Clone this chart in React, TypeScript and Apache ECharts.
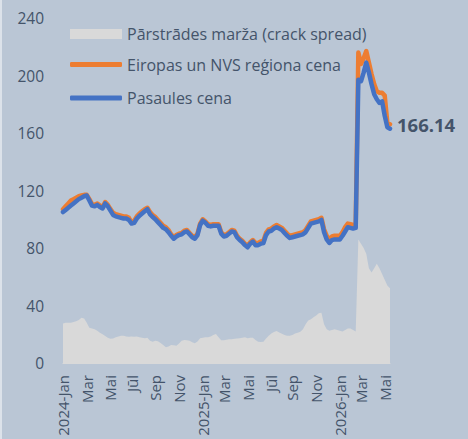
import React, { useEffect, useRef } from "react";
import * as echarts from "echarts";

const WEEK_COUNT = 125;
const START = Date.UTC(2024, 0, 1);
const categories: string[] = Array.from({ length: WEEK_COUNT }, (_, i) =>
  new Date(START + i * 7 * 86400000).toISOString().slice(0, 10)
);
const monthNames = ["Jan", "Feb", "Mar", "Apr", "Mai", "Jūn", "Jūl", "Aug", "Sep", "Okt", "Nov", "Dec"];

const yTicks = { min: 0, max: 240, interval: 40 };

const spreadName = "Pārstrādes marža (crack spread)";
const europeName = "Eiropas un NVS reģiona cena";
const worldName = "Pasaules cena";

const spreadValues = [
  27.5, 28, 28, 28, 28.5, 29, 30, 31.5, 31, 28,
  24.5, 24, 23.5, 22.5, 21, 20, 18.8, 17.5, 16.8, 17,
  18, 18.5, 19, 19, 18.5, 18.3, 18.5, 18.3, 18.5, 18,
  17.5, 17.3, 17.5, 15.5, 14.8, 15.5, 15.2, 14, 12.5, 11,
  11.5, 12.5, 12.3, 12, 13.5, 15.5, 16, 15.8, 15.5, 14.5,
  13.7, 15, 17.2, 17.5, 17.9, 18, 18.5, 19.5, 20.2, 18,
  15.8, 15.8, 16.2, 16.5, 16.5, 16.8, 17, 17.2, 17.5, 17.9,
  17.2, 17.6, 17.5, 16, 14.8, 14.6, 14.8, 17, 19, 20.5,
  21.5, 22.3, 21.3, 20.3, 19.5, 19, 19, 19.5, 20.5, 21,
  21.8, 23.5, 27, 29.5, 30.5, 31.8, 33, 34.6, 35, 27,
  23.5, 22.5, 23, 23.4, 23, 22.5, 22, 23, 24, 24,
  23, 22, 86, 83, 80, 76, 66, 63, 66, 69,
  66, 62, 58, 54, 52
];

const europeValues = [
  107, 109, 111, 113, 114, 115, 116, 116.5, 117, 117,
  114, 110.5, 110, 111, 109.5, 108.5, 112, 110, 107, 104.5,
  103.5, 103, 102.5, 102, 102, 101, 98, 99, 102, 104,
  105.5, 107, 108, 105, 103, 101.5, 99.5, 97.5, 95.5, 94.5,
  92.5, 89.5, 87.5, 89, 90, 90.5, 92, 92.5, 90.5, 88.5,
  87.5, 90, 97, 100, 98.5, 96.5, 96, 96.5, 96.5, 96.5,
  91, 89, 89.5, 91, 92.5, 92, 88.5, 86.5, 85, 83,
  81.5, 84, 85.5, 83.5, 83.5, 84.5, 85, 90.5, 93, 93.5,
  95, 96, 95, 94, 92, 90, 88.5, 89, 89.5, 90,
  90.5, 91, 92.5, 95.5, 98.5, 99, 99.5, 100, 101, 93,
  88.5, 86, 88, 88.5, 88.5, 88.5, 91, 94.5, 97, 96.5,
  96, 96, 216, 208, 212, 217, 209, 201, 194, 189,
  188, 188, 186, 167, 166.14
];

const worldValues = [
  105, 106.5, 108, 109.5, 111, 112.5, 114, 115, 116, 116.5,
  113, 109.5, 109, 110, 108.5, 107.5, 111, 109, 106, 103,
  102, 101.5, 101, 100.5, 100.5, 99.5, 97, 97.5, 100.5, 102.5,
  104, 105.5, 107, 103.5, 101.5, 100, 98, 96, 94, 93,
  91, 88.5, 86.5, 88, 89, 89.5, 91, 91.5, 89.5, 87.5,
  86.5, 89, 96, 99, 97.5, 95.5, 95, 95.5, 95.5, 95.5,
  90, 88, 88.5, 90, 91.5, 91, 87.5, 85.5, 84, 82,
  80.5, 83, 84.5, 82, 82, 83, 83.5, 89, 91.5, 92,
  93.5, 94.5, 93.5, 92.5, 90.5, 88.5, 87, 87.5, 88, 88.5,
  89, 89.5, 91, 94, 97, 97.5, 98, 98.5, 99.5, 91,
  86, 83.5, 85.5, 86, 86, 86, 88.5, 91.5, 94.5, 94,
  93.5, 94, 197, 196, 202, 209, 202, 194, 187, 183.5,
  181, 182, 172, 164, 163
];

const TEXT = "#44546A";
const FONT = "'Open Sans', sans-serif";

export default function App() {
  const ref = useRef<HTMLDivElement>(null);
  useEffect(() => {
    if (!ref.current) return;
    const chart = echarts.init(ref.current, null, { renderer: "svg" });
    const isLabelWeek = (idx: number) => {
      const d = new Date(categories[idx] + "T00:00:00Z");
      const m = d.getUTCMonth();
      return d.getUTCDate() <= 7 && m % 2 === 0;
    };
    const legendText = { color: TEXT, fontSize: 16, fontFamily: FONT, lineHeight: 15 };
    chart.setOption({
      animation: false,
      backgroundColor: "#BAC6D5",
      textStyle: { fontFamily: FONT },
      grid: { left: 63, right: 78, top: 18, bottom: 76, outerBoundsMode: "none" },
      graphic: [
        { type: "rect", left: 0, top: 0, shape: { width: 2, height: 439 }, style: { fill: "#DCE2EA" } },
      ],
      legend: [
        {
          data: [{ name: spreadName, icon: "rect" }],
          orient: "vertical",
          left: 65,
          top: 21,
          padding: 5,
          itemWidth: 52,
          itemHeight: 10,
          itemGap: 17,
          selectedMode: false,
          itemStyle: { borderWidth: 0 },
          textStyle: legendText,
        },
        {
          data: [
            { name: europeName, icon: "roundRect" },
            { name: worldName, icon: "roundRect" },
          ],
          orient: "vertical",
          left: 65,
          top: 51.5,
          padding: 5,
          itemWidth: 52,
          itemHeight: 5,
          itemGap: 17.5,
          selectedMode: false,
          itemStyle: { borderWidth: 0 },
          textStyle: legendText,
        },
      ],
      xAxis: {
        type: "category",
        data: categories,
        boundaryGap: false,
        axisLine: { show: true, lineStyle: { color: "#D9D9D9", width: 1 } },
        axisTick: { show: false },
        splitLine: { show: false },
        axisLabel: {
          rotate: 90,
          margin: 12,
          color: TEXT,
          fontSize: 15,
          fontFamily: FONT,
          interval: (idx: number) => isLabelWeek(idx),
          formatter: (v: string) => {
            const d = new Date(v + "T00:00:00Z");
            const m = d.getUTCMonth();
            return m === 0 ? `${d.getUTCFullYear()}-${monthNames[m]}` : monthNames[m];
          },
        },
      },
      yAxis: {
        type: "value",
        min: yTicks.min,
        max: yTicks.max,
        interval: yTicks.interval,
        axisLine: { show: false },
        axisTick: { show: false },
        splitLine: { show: false },
        axisLabel: { color: TEXT, fontSize: 15.5, fontFamily: FONT, margin: 19 },
      },
      series: [
        {
          name: spreadName,
          type: "line",
          data: spreadValues,
          symbol: "none",
          lineStyle: { width: 0, color: "#D9D9D9" },
          itemStyle: { color: "#D9D9D9" },
          areaStyle: { color: "#D9D9D9", opacity: 1 },
          z: 1,
        },
        {
          name: europeName,
          type: "line",
          data: europeValues,
          symbol: "none",
          lineStyle: { width: 4.5, color: "#ED7D31", cap: "round", join: "round" },
          itemStyle: { color: "#ED7D31" },
          endLabel: {
            show: true,
            formatter: "{c}",
            color: TEXT,
            fontSize: 18.5,
            fontWeight: "bold",
            fontFamily: FONT,
            distance: 7,
          },
          z: 2,
        },
        {
          name: worldName,
          type: "line",
          data: worldValues,
          symbol: "none",
          lineStyle: { width: 4.5, color: "#4472C4", cap: "round", join: "round" },
          itemStyle: { color: "#4472C4" },
          z: 3,
        },
      ],
    });
    return () => chart.dispose();
  }, []);
  return (
    <div
      ref={ref}
      style={{ position: "fixed", left: 0, top: 0, width: 468, height: 439 }}
    />
  );
}
